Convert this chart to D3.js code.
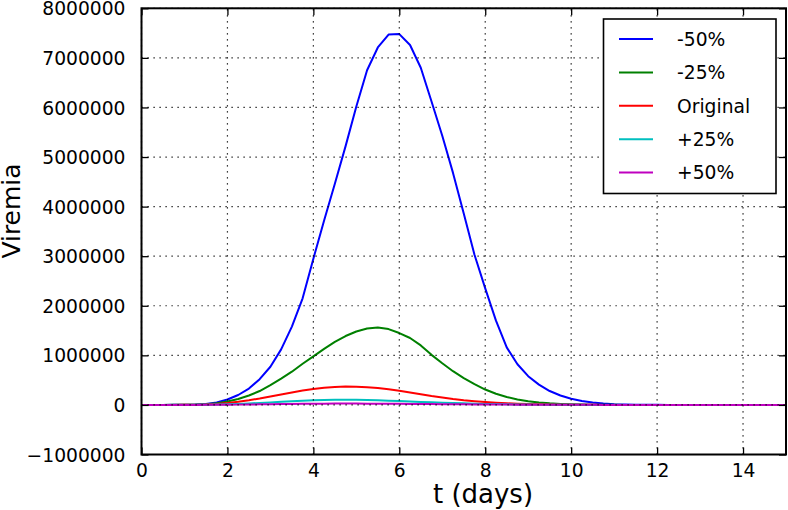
<!DOCTYPE html>
<html><head><meta charset="utf-8">
<script src="https://cdn.jsdelivr.net/npm/d3@7"></script>
<style>
html,body{margin:0;padding:0;background:#fff;}
svg{display:block;font-family:"DejaVu Sans",sans-serif;}
</style></head>
<body><svg id="chart" width="788" height="510"></svg>
<script>
// ---- data ----
const times = [0,0.25,0.5,0.75,1,1.25,1.5,1.75,2,2.25,2.5,2.75,3,3.25,3.5,3.75,4,4.25,4.5,4.75,5,5.25,5.5,5.75,6,6.25,6.5,6.75,7,7.25,7.5,7.75,8,8.25,8.5,8.75,9,9.25,9.5,9.75,10,10.25,10.5,10.75,11,11.25,11.5,11.75,12,12.25,12.5,12.75,13,13.25,13.5,13.75,14,14.25,14.5,14.75,15];
const minus50 = [0,0,0,1000,3000,8000,20000,50000,110000,200000,330000,520000,770000,1120000,1580000,2150000,2950000,3720000,4460000,5220000,6020000,6750000,7210000,7470000,7480000,7260000,6800000,6120000,5430000,4680000,3860000,3030000,2350000,1700000,1160000,820000,580000,410000,280000,190000,125000,80000,50000,30000,16000,8000,4000,2000,1000,0,0,0,0,0,0,0,0,0,0,0,0];
const minus25 = [0,0,0,1000,3000,6000,15000,35000,70000,120000,190000,280000,400000,530000,670000,830000,980000,1130000,1270000,1390000,1480000,1540000,1560000,1530000,1450000,1350000,1200000,1010000,840000,680000,540000,420000,310000,225000,160000,110000,75000,50000,32000,20000,12000,7000,4000,2000,1000,0,0,0,0,0,0,0,0,0,0,0,0,0,0,0,0];
const original = [0,0,0,0,1000,3000,8000,20000,40000,65000,95000,130000,170000,210000,250000,290000,320000,345000,360000,370000,368000,358000,340000,315000,285000,250000,215000,180000,150000,120000,95000,75000,58000,44000,33000,24000,17000,12000,8000,5000,3000,2000,1000,0,0,0,0,0,0,0,0,0,0,0,0,0,0,0,0,0,0];
const plus25 = [0,0,0,0,0,1000,3000,7000,12000,20000,30000,40000,51000,62000,73000,83000,92000,99000,103000,104000,102000,98000,92000,85000,77000,69000,61000,53000,45000,38000,32000,26000,21000,17000,13000,10000,8000,6000,4000,3000,2000,1000,0,0,0,0,0,0,0,0,0,0,0,0,0,0,0,0,0,0,0];
const plus50 = [0,0,0,0,0,0,1000,2000,4000,6000,9000,12000,15000,18000,21000,23000,25000,26000,27000,27500,27000,26000,25000,23500,22000,20500,19000,17000,15000,13500,12000,10500,9000,8000,7000,6000,5000,4000,3000,2500,2000,1500,1000,500,0,0,0,0,0,0,0,0,0,0,0,0,0,0,0,0,0];
const seriesNames = ["-50%","-25%","Original","+25%","+50%"];
const seriesColors = ["#0000ff","#008000","#ff0000","#00bfbf","#bf00bf"];
const xTicks = [0,2,4,6,8,10,12,14];
const yTicks = [-1000000,0,1000000,2000000,3000000,4000000,5000000,6000000,7000000,8000000];
const xLabel = "t (days)";
const yLabel = "Viremia";

// ---- layout ----
const L = 141.5, R = 786, T = 8.3, B = 454.5;
const svg = d3.select("#chart");
const x = d3.scaleLinear().domain([0,15]).range([L,R]);
const y = d3.scaleLinear().domain([-1000000,8000000]).range([B,T]);

const series = [minus50, minus25, original, plus25, plus50];

svg.append("defs").append("clipPath").attr("id","clip")
  .append("rect").attr("x",L).attr("y",T).attr("width",R-L).attr("height",B-T);

const line = d3.line().x((d,i)=>x(times[i])).y(d=>y(d));
const gLines = svg.append("g").attr("clip-path","url(#clip)");
series.forEach((s,k)=>{
  gLines.append("path").datum(s).attr("d",line)
    .attr("fill","none").attr("stroke",seriesColors[k]).attr("stroke-width",2)
    .attr("stroke-linejoin","round");
});

// grid (drawn above lines)
const grid = svg.append("g");
xTicks.forEach(t=>{
  grid.append("line").attr("x1",x(t)).attr("x2",x(t)).attr("y1",B).attr("y2",T)
    .attr("stroke","#000").attr("stroke-width",1.2).attr("stroke-dasharray","1.2,4.8");
});
yTicks.forEach(v=>{
  grid.append("line").attr("x1",L).attr("x2",R).attr("y1",y(v)).attr("y2",y(v))
    .attr("stroke","#000").attr("stroke-width",1.2).attr("stroke-dasharray","1.2,4.8");
});

// axes (ticks inward on all sides)
const tl = 7;
const fmt = v => (v<0 ? "\u2212" + Math.abs(v) : String(v));
const axB = svg.append("g").attr("transform",`translate(0,${B})`)
  .call(d3.axisBottom(x).tickValues(xTicks).tickSize(-tl).tickPadding(tl+11).tickFormat(d3.format("d")));
const axT = svg.append("g").attr("transform",`translate(0,${T})`)
  .call(d3.axisTop(x).tickValues(xTicks).tickSize(-tl).tickFormat(""));
const axLft = svg.append("g").attr("transform",`translate(${L},0)`)
  .call(d3.axisLeft(y).tickValues(yTicks).tickSize(-tl).tickPadding(tl+9).tickFormat(fmt));
const axRt = svg.append("g").attr("transform",`translate(${R},0)`)
  .call(d3.axisRight(y).tickValues(yTicks).tickSize(-tl).tickFormat(""));
[axB,axT,axLft,axRt].forEach(a=>{
  a.select(".domain").remove();
  a.selectAll(".tick line").attr("stroke","#000").attr("stroke-width",1.3);
  a.selectAll(".tick text").attr("fill","#000").style("font-size","18.7px").style("font-family","DejaVu Sans");
});
axB.selectAll(".tick text").attr("dy","0");
axB.selectAll(".tick text").attr("y",null).attr("transform",null);
axB.selectAll(".tick text").attr("y",22.5);
axLft.selectAll(".tick text").attr("dy","0.35em");

// frame
svg.append("rect").attr("x",L).attr("y",T).attr("width",R-L).attr("height",B-T)
  .attr("fill","none").attr("stroke","#000").attr("stroke-width",2);

// legend
const lg = svg.append("g");
lg.append("rect").attr("x",603.5).attr("y",19).attr("width",172.5).attr("height",174.5)
  .attr("fill","#fff").attr("stroke","#000").attr("stroke-width",1.6);
seriesNames.forEach((n,k)=>{
  const yy = 39 + k*33.4;
  lg.append("line").attr("x1",619).attr("x2",653).attr("y1",yy).attr("y2",yy)
    .attr("stroke",seriesColors[k]).attr("stroke-width",2);
  lg.append("text").attr("x",677).attr("y",yy+6.8).text(n)
    .style("font-size","18.7px").attr("fill","#000");
});

// axis labels
svg.append("text").attr("x",483).attr("y",503).attr("text-anchor","middle")
  .style("font-size","26px").attr("fill","#000").text(xLabel);
svg.append("text").attr("transform","translate(20,211) rotate(-90)").attr("text-anchor","middle")
  .style("font-size","25px").attr("fill","#000").text(yLabel);
</script>
</body></html>
